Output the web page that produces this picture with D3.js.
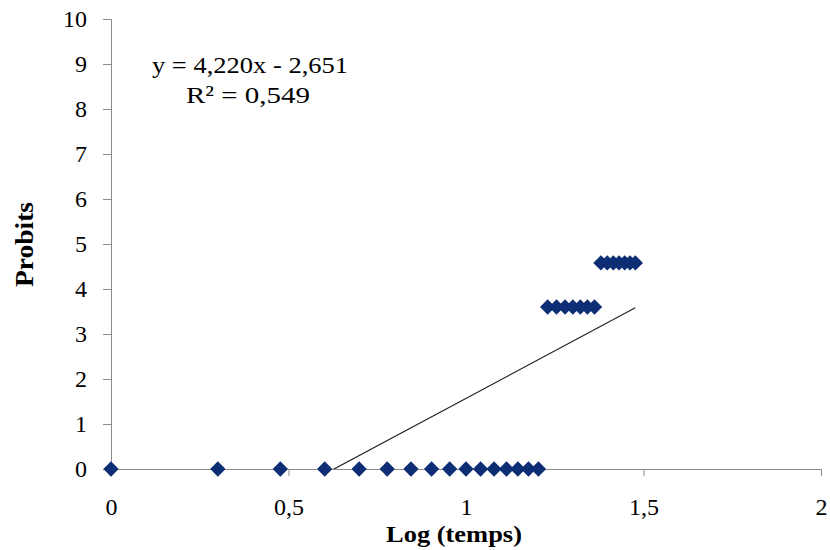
<!DOCTYPE html>
<html>
<head>
<meta charset="utf-8">
<script src="https://cdn.jsdelivr.net/npm/d3@7"></script>
<style>
  body { margin: 0; background: #fff; }
  svg { display: block; font-family: "Liberation Serif", "Times New Roman", serif; }
</style>
</head>
<body>
<svg id="chart" width="830" height="550"></svg>
<script>
/* data: log10 of time (1..30) and their probits */
const logTemps = [0, 0.301, 0.477, 0.602, 0.699, 0.778, 0.845, 0.903, 0.954, 1, 1.041, 1.079, 1.114, 1.146, 1.176, 1.204,
                  1.230, 1.255, 1.279, 1.301, 1.322, 1.342, 1.362,
                  1.380, 1.398, 1.415, 1.431, 1.447, 1.462, 1.477];
const probits  = [0, 0, 0, 0, 0, 0, 0, 0, 0, 0, 0, 0, 0, 0, 0, 0,
                  3.6, 3.6, 3.6, 3.6, 3.6, 3.6, 3.6,
                  4.58, 4.58, 4.58, 4.58, 4.58, 4.58, 4.58];
const xTicks = [0, 0.5, 1, 1.5, 2];
const yTicks = [0, 1, 2, 3, 4, 5, 6, 7, 8, 9, 10];
const slope = 4.220, intercept = -2.651;

const svg = d3.select('#chart');
const x = d3.scaleLinear().domain([0, 2]).range([111, 821]);
const y = d3.scaleLinear().domain([0, 10]).range([469, 19]);
const fmt = d => String(d).replace('.', ',');

svg.append('defs').append('clipPath').attr('id', 'plot')
  .append('rect').attr('x', x(0)).attr('y', y(10)).attr('width', x(2) - x(0)).attr('height', y(0) - y(10));

/* ── AXES ───────────────────────────── */
const axisColor = '#8c8c8c';
const gy = svg.append('g').attr('transform', `translate(${x(0)},0)`)
  .call(d3.axisLeft(y).tickValues(yTicks).tickSize(8).tickPadding(16).tickFormat(fmt));
const gx = svg.append('g').attr('transform', `translate(0,${y(0)})`)
  .call(d3.axisBottom(x).tickValues(xTicks).tickSize(7).tickPadding(22).tickFormat(fmt));
[gx, gy].forEach(g => {
  g.select('.domain').attr('stroke', axisColor);
  g.selectAll('.tick line').attr('stroke', axisColor);
  g.selectAll('.tick text').attr('fill', '#000').attr('font-size', 24)
    .attr('font-family', '"Liberation Serif", serif');
});
gx.selectAll('.tick line').attr('stroke', d => d === 0 ? 'none' : axisColor);

/* ── TRENDLINE ──────────────────────── */
const xMin = d3.min(logTemps), xMax = d3.max(logTemps);
svg.append('line').attr('clip-path', 'url(#plot)')
  .attr('x1', x(xMin)).attr('y1', y(slope * xMin + intercept))
  .attr('x2', x(xMax)).attr('y2', y(slope * xMax + intercept))
  .attr('stroke', '#222').attr('stroke-width', 1.2);

/* ── POINTS ─────────────────────────── */
const diamond = d3.symbol().type(d3.symbolDiamond2).size(150);
svg.append('g').selectAll('path').data(logTemps).join('path')
  .attr('d', diamond)
  .attr('transform', (d, i) => `translate(${x(d)},${y(probits[i])})`)
  .attr('fill', '#0d2d74');

/* ── TEXTS ──────────────────────────── */
svg.append('text').attr('x', 152).attr('y', 73).attr('font-size', 24)
  .attr('textLength', 196).attr('lengthAdjust', 'spacingAndGlyphs').text('y = 4,220x - 2,651');
svg.append('text').attr('x', 186).attr('y', 103).attr('font-size', 24)
  .attr('textLength', 124).attr('lengthAdjust', 'spacingAndGlyphs').text('R² = 0,549');
svg.append('text').attr('x', 386).attr('y', 542)
  .attr('font-size', 24).attr('font-weight', 'bold')
  .attr('textLength', 136).attr('lengthAdjust', 'spacingAndGlyphs').text('Log (temps)');
svg.append('text').attr('transform', 'translate(33,287) rotate(-90)')
  .attr('font-size', 25).attr('font-weight', 'bold')
  .attr('textLength', 85).attr('lengthAdjust', 'spacingAndGlyphs').text('Probits');
</script>
</body>
</html>
